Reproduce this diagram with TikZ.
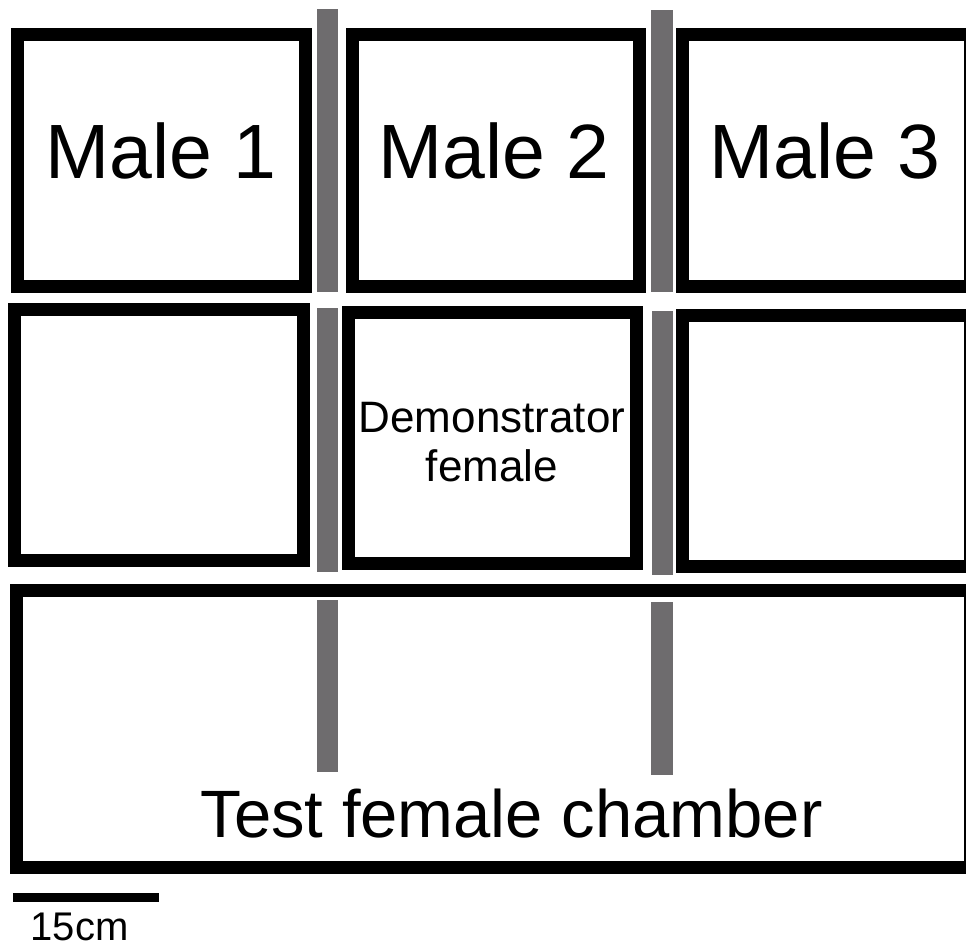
\documentclass[tikz,border=0pt]{standalone}
\usepackage{fontspec}
\setmainfont{Liberation Sans}
\definecolor{wallgray}{RGB}{110,108,110}

\begin{document}
\begin{tikzpicture}[x=1pt, y=-1pt,
  cage/.style={
    draw, line width=13pt, inner sep=0pt, outer sep=0pt,
    minimum width=288pt, minimum height=251pt
  },
  divider/.style={fill=wallgray, inner sep=0pt, minimum width=21pt},
  malelbl/.style={font=\fontsize{77}{86}\selectfont, anchor=base, inner sep=0pt},
  demolbl/.style={font=\fontsize{44}{49}\selectfont, align=center, inner sep=0pt},
  testlbl/.style={font=\fontsize{67}{74}\selectfont, anchor=base, inner sep=0pt},
  scalelbl/.style={font=\fontsize{40}{44}\selectfont, anchor=base, inner sep=0pt}
]
\useasboundingbox (0,0) rectangle (966,947);
\clip (0,0) rectangle (966,947);
% male cages
\node[cage, minimum height=252pt] (M1) at (161.5,160.5) {};
\node[cage, minimum height=252pt, minimum width=287pt] (M2) at (496,160.5) {};
\node[cage, minimum height=252pt] (M3) at (826.5,160.5) {};
\node[malelbl] (M1txt) at (161,178) {Male 1};
\node[malelbl] (M2txt) at (494,178) {Male 2};
\node[malelbl] (M3txt) at (825,178) {Male 3};
% middle row
\node[cage, minimum width=289pt] (C1) at (159,435) {};
\node[cage] (C2) at (492.5,438) {};
\node[cage] (C3) at (826.5,441) {};
\node[demolbl] (demo) at (492,442.5) {Demonstrator\\female};
% test chamber
\node[cage, minimum width=954pt, minimum height=277pt] (test) at (493.5,729) {};
\node[testlbl] (testtxt) at (511.5,837) {Test female chamber};
% dividers
\node[divider, minimum height=283pt] (d11) at (327.5,150.5) {};
\node[divider, minimum height=282pt, minimum width=22pt] (d12) at (661.5,151) {};
\node[divider, minimum height=264pt] (d21) at (327.5,440) {};
\node[divider, minimum height=264pt] (d22) at (662,443) {};
\node[divider, minimum height=172pt] (d31) at (327,686) {};
\node[divider, minimum height=173pt, minimum width=22pt] (d32) at (662,688.5) {};
% scale bar
\coordinate (barL) at (13,897.5);
\coordinate (barR) at (159,897.5);
\draw[line width=9pt] (barL) -- (barR);
\node[scalelbl] (scale) at (79.5,940) {15cm};
\end{tikzpicture}
\end{document}
